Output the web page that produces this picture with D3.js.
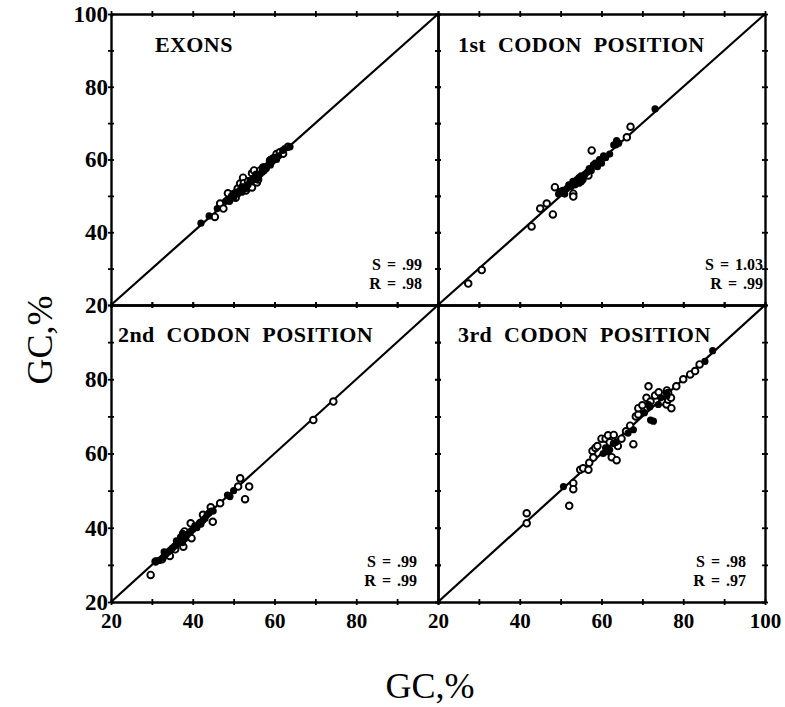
<!DOCTYPE html>
<html>
<head>
<meta charset="utf-8">
<script src="https://cdnjs.cloudflare.com/ajax/libs/d3/7.8.5/d3.min.js"></script>
<style>
  body { margin: 0; background: #fff; }
  svg { display: block; }
  text { font-family: "Liberation Serif", "Times New Roman", serif; fill: #000; }
</style>
</head>
<body>
<svg id="chart"></svg>
<script>
var width = 785;
var height = 707;

// values: [x, y] in GC %
var exonsOpen = [[45.4,44.2],[46.7,47.9],[47.5,46.5],[48.6,50.7],[49,49],[50,50.5],[50.5,49.5],[51,52],
	[51.6,53.4],[52.3,55],[52.5,53.5],[53,51.5],[53.5,54],[54.5,56.2],[54.5,52.3],[55,57],[55.7,53.7],
	[56,54.5],[56.5,57],[57.2,57.8],[58.9,59.7],[59.6,60.3],[60.5,61.5],[61.3,62],[62.1,61.6],[63.3,63.5]];
var exonsFilled = [[42,42.5],[44,44.5],[46,46.5],[48,48.5],[48.5,49],[49,48.5],[49.5,50],[50,49.5],
	[50.5,51],[51,50.5],[51.5,51.5],[52,51],[52,52.5],[52.5,52.5],[53,52],[53.5,53],[54,54],[54.5,54.5],
	[55,55],[55.5,54.5],[55.5,56],[56,55],[56.5,56],[57,56.5],[57,57],[57.5,57],[57.5,58],[58,57.5],
	[58.5,58.5],[59,58.5],[59,60],[59.5,59.5],[60,60.5],[60.5,60],[61,61],[62,62.5],[62.5,63],[63.8,63.5]];

var firstOpen = [[27.4,25.9],[30.7,29.6],[42.9,41.6],[48.1,44.9],[45,46.5],[46.6,47.9],[48.6,52.4],
	[50,51],[53.1,50.6],[53.1,49.8],[55,54],[56.8,55.6],[57.6,62.5],[66.2,66.1],[67.1,69]];
var firstFilled = [[49.5,50.5],[50.5,51.5],[51,50.5],[51.5,52],[52,53],[52.5,52.5],[53,54],[53.5,53],
	[54,54.5],[54.5,53.5],[54.5,55],[55,55.5],[55.5,54.5],[56,56],[56.5,56.5],[57,57.5],[57.5,57],
	[58,58.5],[58.5,59],[59,58],[59.5,60],[60,59],[60.5,61],[61,60.5],[62,61.5],[63,64],[63.5,64],
	[63.7,65.2],[64.2,64.5],[73.1,73.9]];

var secondOpen = [[29.7,27.3],[30.9,30.9],[32.5,31.5],[34.4,32.4],[35.7,34.2],[37.7,34.9],[38,39],
	[39.7,37.2],[39.5,41.2],[41.8,41.3],[42.5,43.5],[44.4,45.5],[44.9,41.6],[46.7,46.6],[51.6,53.3],
	[51.1,51.1],[52.8,47.7],[53.8,51.1],[69.5,69],[74.4,74]];
var secondFilled = [[31,31],[31.8,31.2],[32.8,32],[33,33.5],[33.5,33],[34,33.5],[34.5,34],[35,34.5],
	[35.5,35],[36,35.5],[36,36.5],[36.5,36.5],[37,37.5],[37.5,36],[37.5,38.5],[38,37],[38.5,38],
	[39,38.5],[39.5,39],[40,39.5],[40.5,40.5],[41,40],[41.5,41],[42,41],[42.5,42],[43,42.5],
	[43.5,43.5],[44,44],[44.5,44.5],[45,44.5],[48.5,48.8],[49.1,48.4],[50,50]];

var thirdOpen = [[41.7,43.9],[41.7,41.2],[52.1,45.9],[53.1,52],[53.1,50.4],[54.8,55.6],[55.5,56],
	[56.8,55.6],[57,57.5],[57.8,60.7],[58,58.9],[58.5,61.5],[59,62],[60,64],[61,64],[61.6,64.9],
	[62,63],[62.5,59],[63,65],[63.7,58.2],[64,62],[64.9,64],[66,66],[67,67.5],[67.8,62.5],[68.4,70],
	[69,70.5],[69,72.2],[70,73],[71,75],[71.5,78.1],[72,74],[73.1,75.6],[74,76.5],[75,74],[75.9,73.2],
	[76,77],[76.3,76.3],[76.3,74.5],[77,75],[77.1,72.2],[78.3,78.1],[80,80],[81.7,81.3],[82.9,82.2],
	[84,84]];
var thirdFilled = [[50.7,51.1],[60.4,60],[61,61.5],[61.5,60.5],[62,61],[62.9,62.7],[63.5,63],
	[66.5,65.5],[67.8,66.4],[70.5,71],[71.5,73.2],[71.8,72.5],[72,69],[72.7,68.7],[73.9,73.2],
	[74.5,75],[75.9,76.3],[76,75.5],[85.3,84.8],[87.2,87.7]];

var titles = ["EXONS", "1st CODON POSITION", "2nd CODON POSITION", "3rd CODON POSITION"];
var slopes = ["S = .99", "S = 1.03", "S = .99", "S = .98"];
var corrs = ["R = .98", "R = .99", "R = .99", "R = .97"];
var tickValues = [20, 30, 40, 50, 60, 70, 80, 90, 100];

var panels = [
	{open: exonsOpen, filled: exonsFilled, col: 0, row: 0, titleX: 44, statX: 422},
	{open: firstOpen, filled: firstFilled, col: 1, row: 0, titleX: 20, statX: 763},
	{open: secondOpen, filled: secondFilled, col: 0, row: 1, titleX: 7, statX: 417},
	{open: thirdOpen, filled: thirdFilled, col: 1, row: 1, titleX: 20, statX: 746}
];

var colEdges = [111, 438, 765];
var rowEdges = [14, 305, 602];

var svg = d3.select('#chart')
	.attr('width', width)
	.attr('height', height);

panels.forEach(function(p, i) {
	var x0 = colEdges[p.col], x1 = colEdges[p.col + 1];
	var y0 = rowEdges[p.row], y1 = rowEdges[p.row + 1];

	var xScale = d3.scaleLinear().domain([20, 100]).range([x0, x1]);
	var yScale = d3.scaleLinear().domain([20, 100]).range([y1, y0]);

	var g = svg.append('g');

	// frame with crossing ticks on all four sides
	var sides = [
		{axis: d3.axisBottom(xScale), t: "translate(0," + y1 + ")", horiz: true},
		{axis: d3.axisTop(xScale), t: "translate(0," + y0 + ")", horiz: true},
		{axis: d3.axisLeft(yScale), t: "translate(" + x0 + ",0)", horiz: false},
		{axis: d3.axisRight(yScale), t: "translate(" + x1 + ",0)", horiz: false}
	];
	sides.forEach(function(s) {
		var a = g.append('g')
			.attr('transform', s.t)
			.call(s.axis.tickValues(tickValues).tickFormat("").tickSizeOuter(0));
		a.select('.domain').attr('stroke-width', 2.4);
		if (s.horiz) a.selectAll('.tick line').attr('y1', -3).attr('y2', 3).attr('stroke-width', 1.8);
		else a.selectAll('.tick line').attr('x1', -3).attr('x2', 3).attr('stroke-width', 1.8);
		a.selectAll('.tick text').remove();
	});

	// tick labels
	if (p.col === 0) {
		var yl = p.row === 0 ? [20, 40, 60, 80, 100] : [20, 40, 60, 80];
		var ya = g.append('g')
			.attr('transform', "translate(" + (x0 - 2) + ",0)")
			.call(d3.axisLeft(yScale).tickValues(yl).tickSize(0).tickPadding(1).tickFormat(d3.format("d")));
		ya.select('.domain').remove();
		ya.selectAll('text')
			.style('font-family', '"Liberation Serif", serif')
			.style('font-size', '23px')
			.style('font-weight', 'bold');
	}
	if (p.row === 1) {
		var xl = p.col === 0 ? [20, 40, 60, 80] : [20, 40, 60, 80, 100];
		var xa = g.append('g')
			.attr('transform', "translate(0," + y1 + ")")
			.call(d3.axisBottom(xScale).tickValues(xl).tickSize(0).tickPadding(11).tickFormat(d3.format("d")));
		xa.select('.domain').remove();
		xa.selectAll('text')
			.style('font-family', '"Liberation Serif", serif')
			.style('font-size', '21px')
			.style('font-weight', 'bold');
	}

	// y = x line
	g.append('line')
		.attr('x1', xScale(20)).attr('y1', yScale(20))
		.attr('x2', xScale(100)).attr('y2', yScale(100))
		.attr('stroke', '#000')
		.attr('stroke-width', 2.2);

	g.selectAll('circle.open')
		.data(p.open)
		.enter()
		.append('circle')
			.attr('class', 'open')
			.attr('cx', d => xScale(d[0]))
			.attr('cy', d => yScale(d[1]))
			.attr('r', 3.3)
			.attr('fill', '#fff')
			.attr('stroke', '#000')
			.attr('stroke-width', 1.9);

	g.selectAll('circle.filled')
		.data(p.filled)
		.enter()
		.append('circle')
			.attr('class', 'filled')
			.attr('cx', d => xScale(d[0]))
			.attr('cy', d => yScale(d[1]))
			.attr('r', 3.6)
			.attr('fill', '#000');

	g.append('text')
		.attr('x', x0 + p.titleX)
		.attr('y', y0 + (p.row === 0 ? 38 : 37))
		.style('font-size', '22px')
		.style('font-weight', 'bold')
		.style('letter-spacing', '0.4px')
		.style('word-spacing', '6px')
		.text(titles[i]);

	g.append('text')
		.attr('x', p.statX)
		.attr('y', y1 - 35)
		.style('text-anchor', 'end')
		.style('font-size', '16px')
		.style('font-weight', 'bold')
		.style('word-spacing', '2px')
		.text(slopes[i]);

	g.append('text')
		.attr('x', p.statX)
		.attr('y', y1 - 16)
		.style('text-anchor', 'end')
		.style('font-size', '16px')
		.style('font-weight', 'bold')
		.style('word-spacing', '2px')
		.text(corrs[i]);
});

svg.append('text')
	.attr('x', 430)
	.attr('y', 698)
	.style('text-anchor', 'middle')
	.style('font-size', '36px')
	.text("GC,%");

svg.append('text')
	.attr('transform', "rotate(-90)")
	.attr('x', -340)
	.attr('y', 52)
	.style('text-anchor', 'middle')
	.style('font-size', '36px')
	.text("GC,%");
</script>
</body>
</html>
